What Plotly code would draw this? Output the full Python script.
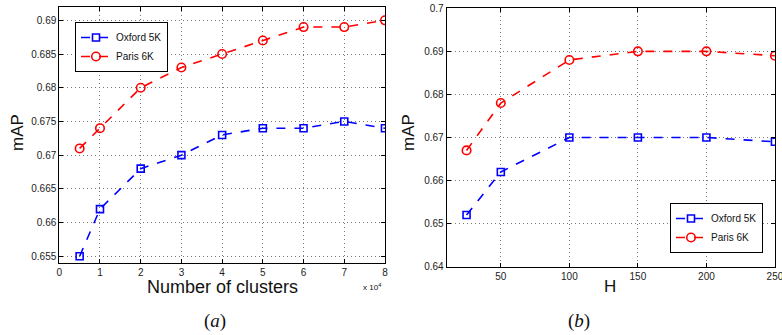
import plotly.graph_objects as go

# ---- data ----
clusters = [5000, 10000, 20000, 30000, 40000, 50000, 60000, 70000, 80000]
oxford_a = [0.655, 0.662, 0.668, 0.670, 0.673, 0.674, 0.674, 0.675, 0.674]
paris_a = [0.671, 0.674, 0.680, 0.683, 0.685, 0.687, 0.689, 0.689, 0.690]

H_vals = [25, 50, 100, 150, 200, 250]
oxford_b = [0.652, 0.662, 0.670, 0.670, 0.670, 0.669]
paris_b = [0.667, 0.678, 0.688, 0.690, 0.690, 0.689]

xa_tickvals = [0, 10000, 20000, 30000, 40000, 50000, 60000, 70000, 80000]
xa_ticktext = ["0", "1", "2", "3", "4", "5", "6", "7", "8"]
ya_tickvals = [0.655, 0.66, 0.665, 0.67, 0.675, 0.68, 0.685, 0.69]
ya_ticktext = ["0.655", "0.66", "0.665", "0.67", "0.675", "0.68", "0.685", "0.69"]
xb_tickvals = [50, 100, 150, 200, 250]
xb_ticktext = ["50", "100", "150", "200", "250"]
yb_tickvals = [0.64, 0.65, 0.66, 0.67, 0.68, 0.69, 0.70]
yb_ticktext = ["0.64", "0.65", "0.66", "0.67", "0.68", "0.69", "0.7"]

BLUE = "#0000ff"
RED = "#ff0000"
FONT = "Liberation Sans, Arial, sans-serif"

fig = go.Figure()

def add(x, y, name, color, symbol, msize, xaxis, yaxis, legend):
    fig.add_trace(go.Scatter(
        x=x, y=y, name=name, mode="lines+markers",
        line=dict(color=color, width=1.6, dash="dash"),
        marker=dict(symbol=symbol, size=msize, color=color,
                    line=dict(color=color, width=1.6)),
        xaxis=xaxis, yaxis=yaxis, legend=legend))

add(clusters, oxford_a, "Oxford 5K", BLUE, "square-open", 7, "x", "y", "legend")
add(clusters, paris_a, "Paris 6K", RED, "circle-open", 8.5, "x", "y", "legend")
add(H_vals, oxford_b, "Oxford 5K", BLUE, "square-open", 7, "x2", "y2", "legend2")
add(H_vals, paris_b, "Paris 6K", RED, "circle-open", 8.5, "x2", "y2", "legend2")

axcommon = dict(showline=True, linecolor="black", linewidth=1, mirror="ticks",
                ticks="inside", ticklen=4, tickcolor="black",
                showgrid=True, gridcolor="#777777", griddash="1px,3px", gridwidth=1,
                zeroline=False, automargin=False, ticklabeloverflow="allow",
                tickfont=dict(family=FONT, size=10, color="#222"))

fig.update_layout(
    width=782, height=335,
    margin=dict(l=0, r=0, t=0, b=0, autoexpand=False),
    paper_bgcolor="white", plot_bgcolor="white",
    showlegend=True,
    xaxis=dict(domain=[0.0758, 0.4923], range=[0, 80000],
               tickvals=xa_tickvals, ticktext=xa_ticktext, anchor="y", **axcommon),
    yaxis=dict(domain=[0.2158, 0.979], range=[0.65405, 0.69197],
               tickvals=ya_tickvals, ticktext=ya_ticktext, anchor="x", **axcommon),
    xaxis2=dict(domain=[0.5712, 0.991], range=[10.5, 250.01],
                tickvals=xb_tickvals, ticktext=xb_ticktext, anchor="y2", **axcommon),
    yaxis2=dict(domain=[0.2039, 0.9752], range=[0.64, 0.70],
                tickvals=yb_tickvals, ticktext=yb_ticktext, anchor="x2", **axcommon),
    legend=dict(x=75 / 782, y=1 - 22 / 335, xanchor="left", yanchor="top",
                bgcolor="white", bordercolor="black", borderwidth=1,
                font=dict(family=FONT, size=10, color="#111"), tracegroupgap=0,
                itemwidth=30),
    legend2=dict(x=670 / 782, y=1 - 203 / 335, xanchor="left", yanchor="top",
                 bgcolor="white", bordercolor="black", borderwidth=1,
                 font=dict(family=FONT, size=10, color="#111"), tracegroupgap=0,
                 itemwidth=30),
)

ann = [
    dict(text="mAP", x=17 / 782, y=1 - 133 / 335, textangle=-90, font=dict(size=17)),
    dict(text="mAP", x=408 / 782, y=1 - 133 / 335, textangle=-90, font=dict(size=17)),
    dict(text="Number of clusters", x=222 / 782, y=1 - 287 / 335, font=dict(size=18)),
    dict(text="H", x=610 / 782, y=1 - 286 / 335, font=dict(size=17)),
    dict(text="x 10<sup>4</sup>", x=372 / 782, y=1 - 287 / 335, font=dict(size=8)),
]
for a in ann:
    f = dict(family=FONT, color="#111")
    f.update(a.pop("font"))
    fig.add_annotation(xref="paper", yref="paper", showarrow=False,
                       xanchor="center", yanchor="middle", font=f, **a)

for txt, xc in [("(<i>a</i>)", 215), ("(<i>b</i>)", 579)]:
    fig.add_annotation(xref="paper", yref="paper", showarrow=False, text=txt,
                       x=xc / 782, y=1 - 321 / 335, xanchor="center", yanchor="middle",
                       font=dict(family="Liberation Serif, DejaVu Serif, serif",
                                 size=19, color="#111"))

fig.write_html("out.html", config={"displayModeBar": False},
               post_script="document.body.style.margin='0px';")
